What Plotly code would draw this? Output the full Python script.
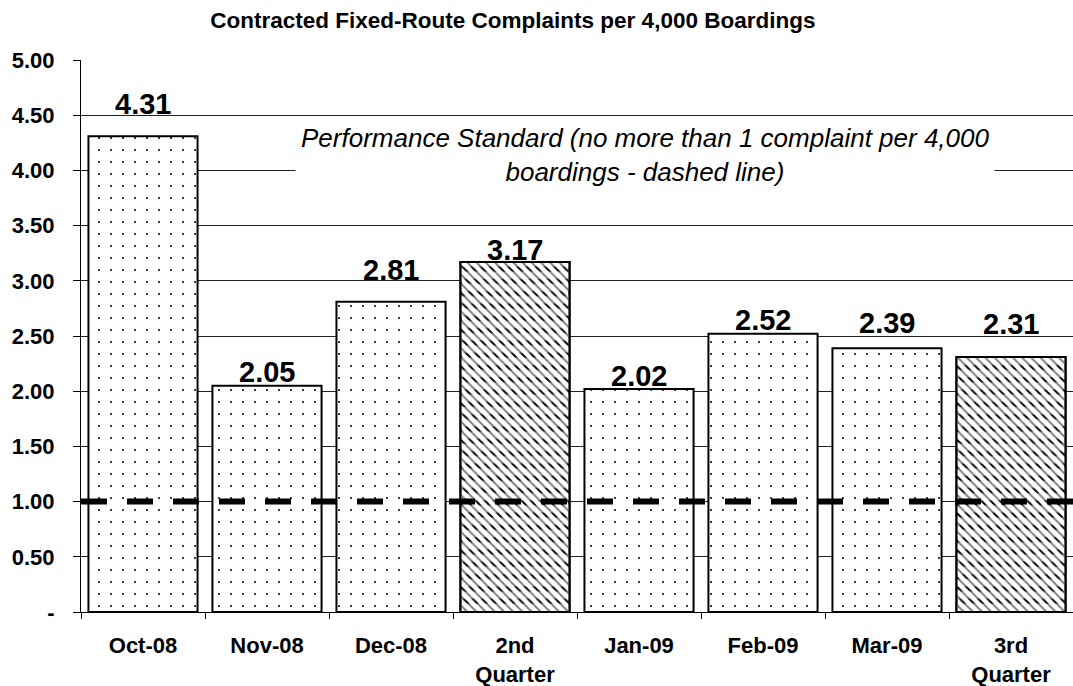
import plotly.graph_objects as go

# Complaint rates per 4,000 boardings
categories = ["Oct-08", "Nov-08", "Dec-08", "2nd<br>Quarter", "Jan-09", "Feb-09", "Mar-09", "3rd<br>Quarter"]
values = [4.31, 2.05, 2.81, 3.17, 2.02, 2.52, 2.39, 2.31]
is_quarter = [False, False, False, True, False, False, False, True]
standard = 1.0

y_ticks = [0, 0.5, 1.0, 1.5, 2.0, 2.5, 3.0, 3.5, 4.0, 4.5, 5.0]
y_tick_text = ["-"] + [f"{v:.2f}" for v in y_ticks[1:]]

# vertical lift (px) of each value label above its bar
label_lift = [32, 14, 32, 12, 13, 14, 25, 33]

FONT = "Arial, 'Liberation Sans', sans-serif"

shapes = ["\\" if q else "." for q in is_quarter]
sizes = [6.5 if q else 12 for q in is_quarter]
solid = [0.3 if q else 0.022 for q in is_quarter]

fig = go.Figure()
# monthly bars dotted, quarterly bars hatched
fig.add_trace(go.Bar(
    x=categories,
    y=values,
    marker=dict(
        color="white",
        line=dict(color="black", width=2),
        pattern=dict(shape=shapes, size=sizes, solidity=solid,
                     fgcolor="black", bgcolor="white", fillmode="replace"),
    ),
    width=0.88,
    hoverinfo="skip",
))
# white bands break the quarterly hatch into rows of short strokes
fig.add_trace(go.Bar(
    x=categories,
    y=[v if q else None for v, q in zip(values, is_quarter)],
    marker=dict(
        color="rgba(255,255,255,0)",
        line=dict(color="black", width=2),
        pattern=dict(shape="-", size=12.3, solidity=0.6,
                     fgcolor="white", fillmode="overlay"),
    ),
    width=0.88,
    hoverinfo="skip",
))

for i, (c, v) in enumerate(zip(categories, values)):
    fig.add_annotation(
        x=c, y=v, text=f"{v:.2f}", showarrow=False,
        yshift=label_lift[i], yanchor="middle",
        font=dict(family=FONT, size=29, color="black", weight="bold"),
    )

# performance standard (dashed line)
fig.add_shape(
    type="line", xref="paper", x0=0, x1=1, yref="y", y0=standard, y1=standard,
    line=dict(color="black", width=6, dash="26px,20px"), layer="above",
)

fig.add_annotation(
    xref="paper", x=0.5685, yref="y", y=4.14,
    text="Performance Standard (no more than 1 complaint per 4,000<br>boardings - dashed line)",
    showarrow=False, align="center", bgcolor="white", borderpad=5,
    font=dict(family=FONT, size=26, color="black", style="italic"),
)

fig.update_layout(
    width=1073, height=686,
    margin=dict(l=81, r=0, t=60, b=74),
    paper_bgcolor="white", plot_bgcolor="white",
    showlegend=False,
    barmode="overlay",
    title=dict(
        text="Contracted Fixed-Route Complaints per 4,000 Boardings",
        x=0.478, xanchor="center", y=0.971, yanchor="middle",
        font=dict(family=FONT, size=22.5, color="black", weight="bold"),
    ),
)

fig.update_yaxes(
    range=[0, 5], tickvals=y_ticks, ticktext=y_tick_text,
    showgrid=True, gridcolor="#222", gridwidth=1,
    showline=True, linecolor="black", linewidth=1,
    ticks="outside", ticklen=7, tickcolor="black",
    tickfont=dict(family=FONT, size=22, color="black", weight="bold"),
    ticklabelstandoff=14,
    zeroline=False, fixedrange=True,
)
fig.update_xaxes(
    showline=True, linecolor="black", linewidth=1,
    ticks="outside", ticklen=6, tickson="boundaries", tickcolor="black",
    tickfont=dict(family=FONT, size=22, color="black", weight="bold"),
    ticklabelstandoff=14,
    fixedrange=True,
)

fig.write_html("out.html")
